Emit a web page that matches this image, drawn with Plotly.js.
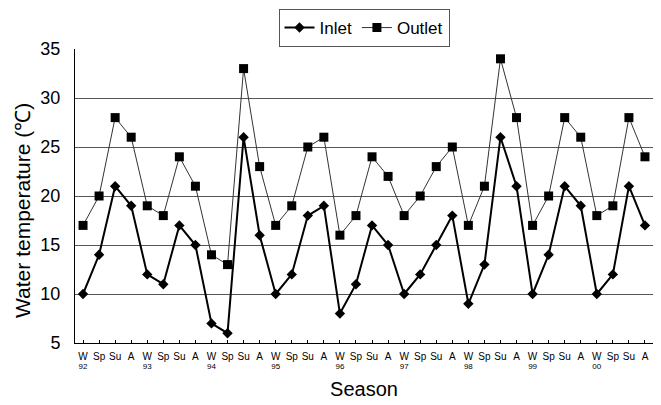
<!DOCTYPE html>
<html>
<head>
<meta charset="utf-8">
<script src="https://cdn.plot.ly/plotly-3.0.1.min.js"></script>
<style>html,body{margin:0;padding:0;background:#fff;}#chart{width:661px;height:405px;}</style>
</head>
<body>
<div id="chart"></div>
<script>
const seasons = ["W","Sp","Su","A","W","Sp","Su","A","W","Sp","Su","A","W","Sp","Su","A","W","Sp","Su","A","W","Sp","Su","A","W","Sp","Su","A","W","Sp","Su","A","W","Sp","Su","A"];
const years = ["92","93","94","95","96","97","98","99","00"];
const inlet = [10,14,21,19, 12,11,17,15, 7,6,26,16, 10,12,18,19, 8,11,17,15, 10,12,15,18, 9,13,26,21, 10,14,21,19, 10,12,21,17];
const outlet = [17,20,28,26, 19,18,24,21, 14,13,33,23, 17,19,25,26, 16,18,24,22, 18,20,23,25, 17,21,34,28, 17,20,28,26, 18,19,28,24];

const idx = seasons.map((s, i) => i);
const yearIdx = years.map((y, i) => i * 4);
const FONT = "Arial, 'Liberation Sans', sans-serif";

const traces = [
  {x: idx, y: inlet, name: "Inlet", type: "scatter", mode: "lines+markers",
   line: {color: "#000", width: 2}, marker: {symbol: "diamond", size: 8, color: "#000"}},
  {x: idx, y: outlet, name: "Outlet", type: "scatter", mode: "lines+markers",
   line: {color: "#333", width: 1}, marker: {symbol: "square", size: 9, color: "#000"}},
  {x: yearIdx, y: yearIdx.map(() => null), xaxis: "x2", showlegend: false, hoverinfo: "skip", type: "scatter"}
];

const layout = {
  width: 661, height: 405,
  margin: {l: 75, r: 8, t: 49, b: 62},
  paper_bgcolor: "#fff", plot_bgcolor: "#fff",
  font: {family: FONT, color: "#000"},
  showlegend: true,
  legend: {orientation: "h", x: 0.5, xanchor: "center", y: 1.136, yanchor: "top",
           bordercolor: "#555", borderwidth: 1, font: {size: 17, family: FONT}, itemwidth: 30,
           tracegroupgap: 0},
  xaxis: {
    range: [-0.5, 35.5], tickmode: "array", tickvals: idx, ticktext: seasons,
    tickfont: {size: 10, family: FONT, color: "#000"}, ticks: "inside", ticklen: 3, tickcolor: "#000",
    ticklabelstandoff: 4,
    showline: true, linecolor: "#000", linewidth: 1, showgrid: false, zeroline: false,
    title: {text: "Season", font: {size: 20, family: FONT}, standoff: 20}
  },
  xaxis2: {
    overlaying: "x", anchor: "y", side: "bottom", range: [-0.5, 35.5],
    tickmode: "array", tickvals: yearIdx, ticktext: years,
    tickfont: {size: 8, family: FONT, color: "#000"}, ticks: "", ticklabelstandoff: 17,
    showline: false, showgrid: false, zeroline: false
  },
  yaxis: {
    range: [5, 35], tickmode: "array", tickvals: [5,10,15,20,25,30,35],
    tickfont: {size: 18, family: FONT}, ticks: "", ticklabelstandoff: 10,
    showline: true, linecolor: "#000", linewidth: 1,
    showgrid: true, gridcolor: "#555", gridwidth: 1, zeroline: false
  },
  annotations: [
    {text: "Water temperature (℃)", textangle: -90, xref: "paper", yref: "paper",
     x: -0.092, y: 0.452, xanchor: "center", yanchor: "middle", showarrow: false,
     font: {size: 21, family: FONT, color: "#000"}}
  ]
};

Plotly.newPlot("chart", traces, layout, {displayModeBar: false, staticPlot: true});
</script>
</body>
</html>
